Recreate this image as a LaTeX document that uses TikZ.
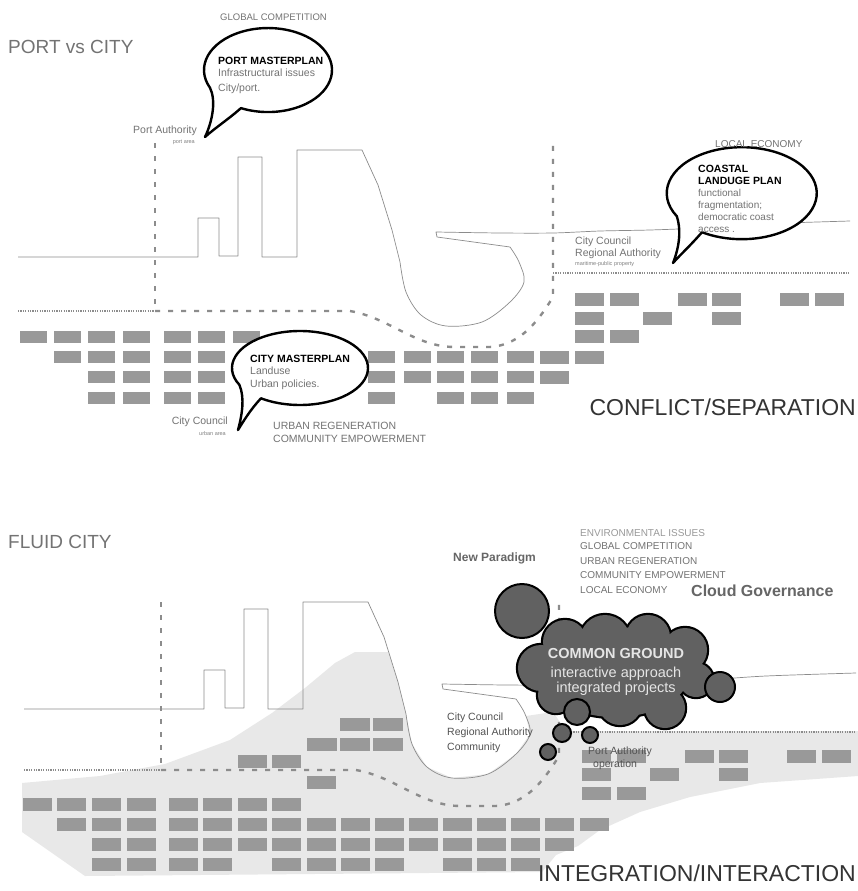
\documentclass[tikz,border=0pt]{standalone}
\usepackage{fontspec}
\setmainfont{Liberation Sans}
\newcommand\fsz[1]{\fontsize{#1}{#1}\selectfont}
\begin{document}
\begin{tikzpicture}[x=1pt,y=-1pt,
  blk/.style={fill=black!40},
  skyl/.style={draw=black!45, line width=0.7pt, line join=round},
  gdash/.style={draw=black!45, line width=2.4pt, dash pattern=on 5pt off 8pt},
  gdot/.style={draw=black!45, line width=1.2pt, dash pattern=on 1.2pt off 1.2pt},
  bub/.style={draw=black, line width=2.4pt, fill=white, line join=round},
  lobeline/.style={draw=black, line width=4.4pt},
  lobefill/.style={fill=black!62},
  dkb/.style={draw=black, line width=2pt, fill=black!62},
  lbl/.style={inner sep=0pt, text=black!55, font=\fsz{10.5}},
  dlbl/.style={inner sep=0pt, text=black!68, font=\fsz{10.5}},
  hd/.style={inner sep=0pt, text=black, font=\fsz{10.5}\bfseries},
  tiny/.style={inner sep=0pt, text=black!50, font=\fsz{5.5}},
  big/.style={inner sep=0pt, text=black!55, font=\fsz{19}},
  huge/.style={inner sep=0pt, text=black!80, font=\fsz{23}},
  cloudtxt/.style={inner sep=0pt, text=black!10, font=\fsz{14.5}},
]
\useasboundingbox (0,0) rectangle (858,891);
\fill[white] (0,0) rectangle (858,891);

% ================= TOP PANEL =================
% blocks
\foreach \x in {20,54,88,123,164,198,233} \fill[blk] (\x,331) rectangle ++(27,12);
\foreach \x in {54,88,123,164,198,368,404,437,471,507} \fill[blk] (\x,351) rectangle ++(27,12);
\foreach \x in {88,123,164,198,368,404,437,471,507} \fill[blk] (\x,371) rectangle ++(27,12);
\foreach \x in {88,123,164,198,368,437,471,507} \fill[blk] (\x,392) rectangle ++(27,12);
\foreach \x in {575,610,678,712,780,815} \fill[blk] (\x,293) rectangle ++(29,13);
\foreach \x in {575,643,712} \fill[blk] (\x,312) rectangle ++(29,13);
\foreach \x in {575,610} \fill[blk] (\x,330) rectangle ++(29,13);
\foreach \x in {540,575} \fill[blk] (\x,351) rectangle ++(29,13);
\fill[blk] (540,371) rectangle ++(29,13);

% skyline, basin and coast
\draw[skyl] (18,257) -- (198,257) -- (198,218) -- (219,218) -- (219,256) -- (238,256) -- (238,157) -- (262,157) -- (262,257) -- (297,257) -- (297,150) -- (362,150) -- (378,185) -- (392,230) -- (400,262)
  -- plot[smooth, tension=0.55] coordinates {(400,262) (406,292) (421,315) (446,326) (482,322) (510,302) (524,282) (519,262) (510,247)}
  -- (437,237) -- (436,232)
  -- plot[smooth, tension=0.5] coordinates {(436,232) (500,233) (553,233) (600,231) (650,230) (700,228) (760,224) (850,221)};

% dashed limits
\draw[gdash] (155,143) -- (155,311);
\draw[gdot] (18,311) -- (155,311);
\draw[gdash] (155,311) -- (350,311) .. controls (390,318) and (415,347) .. (455,347) -- (490,347) .. controls (522,345) and (540,318) .. (553,297) -- (553,143);
\draw[gdot] (553,273) -- (850,273);

% speech bubbles
\draw[bub] (210,87.8) arc[start angle=155, end angle=475, x radius=64, y radius=42]
  .. controls (230,118) and (215,128) .. (205,137) .. controls (213,120) and (216,100) .. cycle;
\draw[bub] (676.8,216.2) arc[start angle=150, end angle=482, x radius=75, y radius=46]
  .. controls (690,246) and (680,255) .. (673,263) .. controls (680,245) and (681,229) .. cycle;
\draw[bub] (239.4,384.8) arc[start angle=153, end angle=485, x radius=68, y radius=37]
  .. controls (250,410) and (243,422) .. (238,430) .. controls (242,415) and (245,398) .. cycle;

% texts
\node[lbl, font=\fsz{9.5}, anchor=base west] (gc) at (220,21) {GLOBAL COMPETITION};
\node[big, anchor=base west] (pvc) at (8,54) {PORT vs CITY};
\node[hd, anchor=base west] (pm1) at (218,64) {PORT MASTERPLAN};
\node[lbl, anchor=base west] (pm2) at (218,77) {Infrastructural issues};
\node[lbl, anchor=base west] (pm3) at (218,91) {City/port.};
\node[lbl, anchor=base east] (pa) at (197,133) {Port Authority};
\node[tiny, anchor=base east] (pa2) at (195,143) {port area};
\node[lbl, font=\fsz{10}, anchor=base west] (le) at (715,147) {LOCAL ECONOMY};
\node[hd, anchor=base west] (co1) at (698,172) {COASTAL};
\node[hd, anchor=base west] (co2) at (698,184) {LANDUGE PLAN};
\node[lbl, font=\fsz{10}, anchor=base west] (co3) at (698,196) {functional};
\node[lbl, font=\fsz{10}, anchor=base west] (co4) at (698,208) {fragmentation;};
\node[lbl, font=\fsz{10}, anchor=base west] (co5) at (698,220) {democratic coast};
\node[lbl, font=\fsz{10}, anchor=base west] (co6) at (698,232) {access .};
\node[lbl, anchor=base west] (cc) at (575,244) {City Council};
\node[lbl, anchor=base west] (ra) at (575,256) {Regional Authority};
\node[tiny, anchor=base west] (mp) at (575,265) {maritime-public property};
\node[hd, anchor=base west] (cm1) at (250,362) {CITY MASTERPLAN};
\node[lbl, anchor=base west] (cm2) at (250,374) {Landuse};
\node[lbl, anchor=base west] (cm3) at (250,387) {Urban policies.};
\node[lbl, anchor=base east] (cc2) at (228,424) {City Council};
\node[tiny, anchor=base east] (ua) at (226,435) {urban area};
\node[lbl, anchor=base west] (ur) at (273,429) {URBAN REGENERATION};
\node[lbl, anchor=base west] (ce) at (273,442) {COMMUNITY EMPOWERMENT};
\node[huge, anchor=base east] (cs) at (856,415) {CONFLICT/SEPARATION};

% ================= BOTTOM PANEL =================
% light halftone ground
\fill[black!9] (22,783) -- (100,776) -- (165,764) -- (230,740) -- (272,713) -- (305,688) -- (335,663) -- (355,652) -- (388,652) -- (398,682) -- (406,714) -- (412,744) -- (427,767) -- (452,778) -- (488,774) -- (516,754) -- (530,734) -- (526,716) -- (553,712) -- (566,731) -- (858,731) -- (858,776) -- (760,783) -- (690,797) -- (640,812) -- (600,830) -- (578,846) -- (556,855) -- (542,872) -- (85,876) -- (22,832) -- cycle;

% blocks
\foreach \x in {23,57,92,127,169,203,238,272} \fill[blk] (\x,798) rectangle ++(29,13);
\foreach \x in {57,92,127,169,203,238,272,307,341,375,409,443,477,511,545,580} \fill[blk] (\x,818) rectangle ++(29,13);
\foreach \x in {92,127,169,203,238,272,307,341,375,409,443,477,511,545} \fill[blk] (\x,838) rectangle ++(29,13);
\foreach \x in {92,127,169,203,272,307,341,375,443,477,511} \fill[blk] (\x,858) rectangle ++(29,13);
\foreach \x in {340,373} \fill[blk] (\x,718) rectangle ++(30,13);
\foreach \x in {307,340,373} \fill[blk] (\x,738) rectangle ++(30,13);
\foreach \x in {238,272} \fill[blk] (\x,755) rectangle ++(29,13);
\fill[blk] (307,776) rectangle ++(29,13);
\foreach \x in {582,617,685,719,787,822} \fill[blk] (\x,750) rectangle ++(29,13);
\foreach \x in {582,650,719} \fill[blk] (\x,768) rectangle ++(29,13);
\foreach \x in {582,617} \fill[blk] (\x,787) rectangle ++(29,13);

% skyline
\begin{scope}[shift={(6,452)}]
\draw[skyl] (18,257) -- (198,257) -- (198,218) -- (219,218) -- (219,256) -- (238,256) -- (238,157) -- (262,157) -- (262,257) -- (297,257) -- (297,150) -- (362,150) -- (378,185) -- (392,230) -- (400,262)
  -- plot[smooth, tension=0.55] coordinates {(400,262) (406,292) (421,315) (446,326) (482,322) (510,302) (524,282) (519,262) (510,247)}
  -- (437,237) -- (436,232)
  -- plot[smooth, tension=0.5] coordinates {(436,232) (500,233) (553,233) (600,231) (650,230) (700,228) (760,224) (850,221)};
\end{scope}

% dashed limits
\begin{scope}[shift={(6,459)}]
\draw[gdash] (155,143) -- (155,311);
\draw[gdot] (18,311) -- (155,311);
\draw[gdash] (155,311) -- (350,311) .. controls (390,318) and (415,347) .. (455,347) -- (490,347) .. controls (522,345) and (540,318) .. (553,297) -- (553,143);
\draw[gdot] (553,273) -- (850,273);
\end{scope}

% actors
\node[dlbl, anchor=base west] (cc3) at (447,720) {City Council};
\node[dlbl, anchor=base west] (ra3) at (447,735) {Regional Authority};
\node[dlbl, anchor=base west] (cmy) at (447,750) {Community};
\node[dlbl, anchor=base west] (pa3) at (588,754) {Port Authority};
\node[dlbl, anchor=base west] (op) at (593,767) {operation};

% cloud: outline pass, then fill pass
\foreach \c/\r in {{(541,668)}/23, {(565,642)}/22, {(605,640)}/25, {(648,637)}/22, {(685,650)}/22, {(696,680)}/17, {(665,708)}/20, {(620,703)}/22, {(556,695)}/18}
  \draw[lobeline] \c circle[radius=\r];
\draw[lobeline] (615,672) ellipse[x radius=75, y radius=45];
\foreach \c/\r in {{(541,668)}/23, {(565,642)}/22, {(605,640)}/25, {(648,637)}/22, {(685,650)}/22, {(696,680)}/17, {(665,708)}/20, {(620,703)}/22, {(556,695)}/18}
  \fill[lobefill] \c circle[radius=\r];
\fill[lobefill] (615,672) ellipse[x radius=75, y radius=45];

% circles
\draw[dkb] (522,611) circle[radius=27];
\draw[dkb] (720,687) circle[radius=15];
\draw[dkb] (577,712) circle[radius=13];
\draw[dkb] (562,733) circle[radius=9];
\draw[dkb] (590,735) circle[radius=8];
\draw[dkb] (548,752) circle[radius=8];

% cloud texts
\node[cloudtxt, font=\fsz{14.5}\bfseries, anchor=base] (cgr) at (616,658) {COMMON GROUND};
\node[cloudtxt, anchor=base] (ia) at (616,677) {interactive approach};
\node[cloudtxt, anchor=base] (ip) at (616,692) {integrated projects};

% other texts
\node[big, anchor=base west] (fc) at (8,548) {FLUID CITY};
\node[lbl, font=\fsz{10}, text=black!40, anchor=base west] (env) at (580,536) {ENVIRONMENTAL ISSUES};
\node[lbl, font=\fsz{10}, anchor=base west] (gc2) at (580,549) {GLOBAL COMPETITION};
\node[lbl, font=\fsz{10}, anchor=base west] (ur2) at (580,564) {URBAN REGENERATION};
\node[lbl, font=\fsz{10}, anchor=base west] (ce2) at (580,578) {COMMUNITY EMPOWERMENT};
\node[lbl, font=\fsz{10}, anchor=base west] (le2) at (580,593) {LOCAL ECONOMY};
\node[inner sep=0pt, text=black!60, font=\fsz{12}\bfseries, anchor=base west] (np) at (453,561) {New Paradigm};
\node[inner sep=0pt, text=black!60, font=\fsz{16}\bfseries, anchor=base west] (cg) at (691,596) {Cloud Governance};
\node[huge, anchor=base east] (ii) at (856,881) {INTEGRATION/INTERACTION};
\end{tikzpicture}
\end{document}
